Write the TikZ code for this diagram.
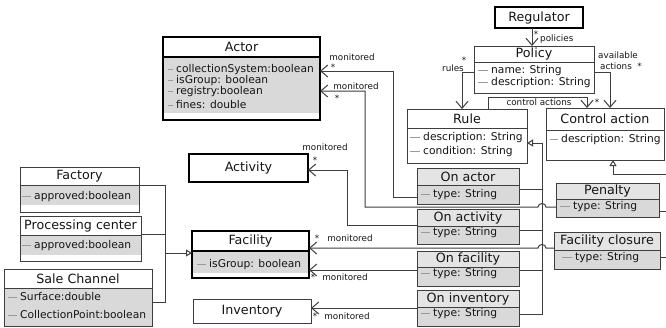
\documentclass[tikz,border=0pt]{standalone}
\usepackage{fontspec}
\setmainfont{DejaVu Sans}
\usetikzlibrary{arrows.meta,calc}
\definecolor{gfill}{HTML}{D9D9D9}
\definecolor{tfill}{HTML}{E4E4E4}
\definecolor{linec}{HTML}{3E3E3E}
\definecolor{dashc}{HTML}{9A9A9A}
\definecolor{textc}{HTML}{151515}
\tikzset{
 thinbox/.style={draw=linec, line width=0.9pt, inner sep=0, outer sep=0},
 thickbox/.style={draw=black, line width=1.6pt, inner sep=0, outer sep=0},
 divthin/.style={draw=linec, line width=0.9pt},
 divthick/.style={draw=black, line width=1.1pt},
 titletext/.style={font=\fontsize{12.7}{15}\selectfont, text=textc, inner sep=0},
 attrtext/.style={font=\fontsize{10.7}{13}\selectfont, text=textc, inner sep=0, anchor=mid west},
 lbl/.style={font=\fontsize{8.8}{10}\selectfont, text=textc, inner sep=0},
 conn/.style={draw=linec, line width=1pt},
 assoc/.style={conn, -{Straight Barb[length=7pt,width=12pt]}},
 gen/.style={conn, -{Triangle[open,length=6pt,width=7pt,fill=white]}},
}
\newcommand\umlbox[9]{%
 \pgfmathsetmacro\bw{#4-#2}%
 \pgfmathsetmacro\bh{#5-#3}%
 \node[#8, minimum width=\bw pt, minimum height=\bh pt, anchor=north west] (#1) at (#2,-#3) {};
 \ifdim #6pt=0pt
   \pgfmathsetmacro\ty{-(#3+#5)/2}%
 \else
   \pgfmathsetmacro\ty{-(#3+#6)/2}%
   \draw[#9] (#2,-#6) -- (#4,-#6);
 \fi
 \pgfmathsetmacro\tx{(#2+#4)/2}%
 \node[titletext] (#1-title) at (\tx,\ty) {#7};
}
\newcommand\attr[5]{\node[attrtext] (#1) at (#2,-#3) {\textcolor{dashc}{\rule[0.27em]{#4pt}{0.8pt}}\hspace{3pt}#5};}
\begin{document}
\begin{tikzpicture}[x=1pt,y=1pt]
\fill[white] (0,0) rectangle (666,-327);
\useasboundingbox (0,0) rectangle (666,-327);

% fills
\fill[gfill] (163,-57) rectangle (320,-113);
\fill[gfill] (20,-185) rectangle (139,-205);
\fill[gfill] (20,-235) rectangle (141,-255);
\fill[gfill] (4,-288) rectangle (152,-326);
\fill[gfill] (192,-251) rectangle (309,-273);
\fill[tfill] (417,-168) rectangle (519,-185);
\fill[gfill] (417,-185) rectangle (519,-204);
\fill[tfill] (417,-209) rectangle (519,-226);
\fill[gfill] (417,-226) rectangle (519,-244);
\fill[tfill] (417,-251) rectangle (519,-267);
\fill[gfill] (417,-267) rectangle (519,-286);
\fill[tfill] (417,-290) rectangle (519,-307);
\fill[gfill] (417,-307) rectangle (519,-326);
\fill[tfill] (556,-183) rectangle (659,-199);
\fill[gfill] (556,-199) rectangle (659,-217);
\fill[tfill] (554,-232) rectangle (660,-250);
\fill[gfill] (554,-250) rectangle (660,-269);

% boxes
\umlbox{reg}{495}{7}{583}{28}{0}{Regulator}{thickbox}{}
\umlbox{policy}{474}{46}{594}{93}{62}{Policy}{thinbox}{divthin}
\umlbox{rule}{407}{109}{527}{163}{128}{Rule}{thinbox}{divthin}
\umlbox{ctrl}{546}{108}{664}{160}{130}{Control action}{thinbox}{divthin}
\umlbox{actor}{163}{37}{320}{120}{57}{Actor}{thickbox}{divthick}
\umlbox{activity}{189}{154}{308}{182}{0}{Activity}{thickbox}{}
\umlbox{factory}{20}{167}{139}{212}{185}{Factory}{thinbox}{divthin}
\umlbox{proc}{20}{216}{141}{261}{235}{Processing center}{thinbox}{divthin}
\umlbox{sale}{4}{269}{152}{326}{288}{Sale Channel}{thinbox}{divthin}
\umlbox{facility}{192}{231}{309}{278}{251}{Facility}{thickbox}{divthick}
\umlbox{inventory}{193}{299}{311}{323}{0}{Inventory}{thinbox}{}
\umlbox{onactor}{417}{168}{519}{204}{185}{On actor}{thinbox}{divthin}
\umlbox{onactivity}{417}{209}{519}{244}{226}{On activity}{thinbox}{divthin}
\umlbox{onfacility}{417}{251}{519}{286}{267}{On facility}{thinbox}{divthin}
\umlbox{oninv}{417}{290}{519}{326}{307}{On inventory}{thinbox}{divthin}
\umlbox{penalty}{556}{183}{659}{217}{199}{Penalty}{thinbox}{divthin}
\umlbox{fclose}{554}{232}{660}{269}{250}{Facility closure}{thinbox}{divthin}

% attributes
\attr{actor-a1}{168}{70}{5}{collectionSystem:boolean}
\attr{actor-a2}{168}{81}{5}{isGroup: boolean}
\attr{actor-a3}{168}{92}{5}{registry:boolean}
\attr{actor-a4}{168}{106}{5}{fines: double}
\attr{policy-a1}{478}{71}{10}{name: String}
\attr{policy-a2}{478}{83}{10}{description: String}
\attr{rule-a1}{410}{138}{10}{description: String}
\attr{rule-a2}{410}{152}{10}{condition: String}
\attr{ctrl-a1}{550}{140}{8}{description: String}
\attr{factory-a1}{22}{197}{9}{approved:boolean}
\attr{proc-a1}{22}{246}{9}{approved:boolean}
\attr{sale-a1}{8}{298}{9}{Surface:double}
\attr{sale-a2}{8}{316}{9}{CollectionPoint:boolean}
\attr{facility-a1}{197}{265}{9}{isGroup: boolean}
\attr{onactor-a1}{421}{195}{9}{type: String}
\attr{onactivity-a1}{421}{233}{9}{type: String}
\attr{onfacility-a1}{421}{274}{9}{type: String}
\attr{oninv-a1}{421}{314}{9}{type: String}
\attr{penalty-a1}{560}{207}{10}{type: String}
\attr{fclose-a1}{562}{258}{10}{type: String}

% policy associations
\draw[assoc] (reg.south -| 532,0) -- (policy.north -| 532,0);
\draw[assoc] (policy.west |- 0,-72) -| (rule.north -| 462,0);
\draw[assoc] (policy.east |- 0,-72) -| (ctrl.north -| 610,0);
\draw[assoc] (rule.north -| 488,0) -- (488,-97) -- (587,-97) -- (ctrl.north -| 587,0);

% generalization to Rule
\coordinate (bus) at (542,-143);
\draw[gen] (oninv.east |- 0,-314) -| (bus) -- (rule.east |- bus);
\draw[conn] (onactor.east |- 0,-189) -- (bus |- 0,-189);
\draw[conn] (onactivity.east |- 0,-230) -- (bus |- 0,-230);
\draw[conn] (onfacility.east |- 0,-270) -- (bus |- 0,-270);

% generalization to Control action
\coordinate (rbus) at (668,-174);
\draw[gen] (fclose.east |- 0,-257) -| (rbus) -| (ctrl.south -| 613,0);
\draw[conn] (penalty.east |- 0,-211) -- (rbus |- 0,-211);

% generalization to Facility
\coordinate (lbus) at (165,-253);
\draw[conn] (factory.east |- 0,-185) -| (lbus |- 0,-302) -- (sale.east |- 0,-302);
\draw[conn] (proc.east |- 0,-234) -- (lbus |- 0,-234);
\draw[gen] (lbus) -- (facility.west |- lbus);

% monitored associations
\draw[assoc] (onactor.west |- 0,-197) -| (393,-71) -- (actor.east |- 0,-71);
\draw[assoc] (penalty.west |- 0,-207) -- (546,-207) arc[start angle=0,end angle=180,x radius=4pt,y radius=3.5pt] -| (365,-91) -- (actor.east |- 0,-91);
\draw[assoc] (onactivity.west |- 0,-225) -| (347,-170) -- (activity.east |- 0,-170);
\draw[assoc] (fclose.west |- 0,-248) -- (546,-248) arc[start angle=0,end angle=180,x radius=4pt,y radius=3.5pt] -- (facility.east |- 0,-248);
\draw[assoc] (onfacility.west |- 0,-270) -- (facility.east |- 0,-270);
\draw[assoc] (oninv.west |- 0,-308) -- (inventory.east |- 0,-308);

% labels
\node[lbl] (l1) at (536,-34) {*};
\node[lbl,anchor=west] (l2) at (540,-39) {policies};
\node[lbl] (l3) at (453,-68) {rules};
\node[lbl] (l4) at (464,-60) {*};
\node[lbl] (l5) at (618,-55) {available};
\node[lbl] (l6) at (621,-66) {actions\ \ *};
\node[lbl] (l7) at (539,-102) {control actions};
\node[lbl] (l8) at (597,-102) {*};
\node[lbl] (l9) at (352,-57) {monitored};
\node[lbl] (l10) at (333,-67) {*};
\node[lbl] (l11) at (356,-86) {monitored};
\node[lbl] (l12) at (337,-98) {*};
\node[lbl] (l13) at (325,-147) {monitored};
\node[lbl] (l14) at (315,-160) {*};
\node[lbl] (l15) at (317,-238) {*};
\node[lbl] (l16) at (350,-238) {monitored};
\node[lbl] (l17) at (313,-277) {*};
\node[lbl] (l18) at (345,-277) {monitored};
\node[lbl] (l19) at (315,-316) {*};
\node[lbl] (l20) at (347,-316) {monitored};
\end{tikzpicture}
\end{document}
